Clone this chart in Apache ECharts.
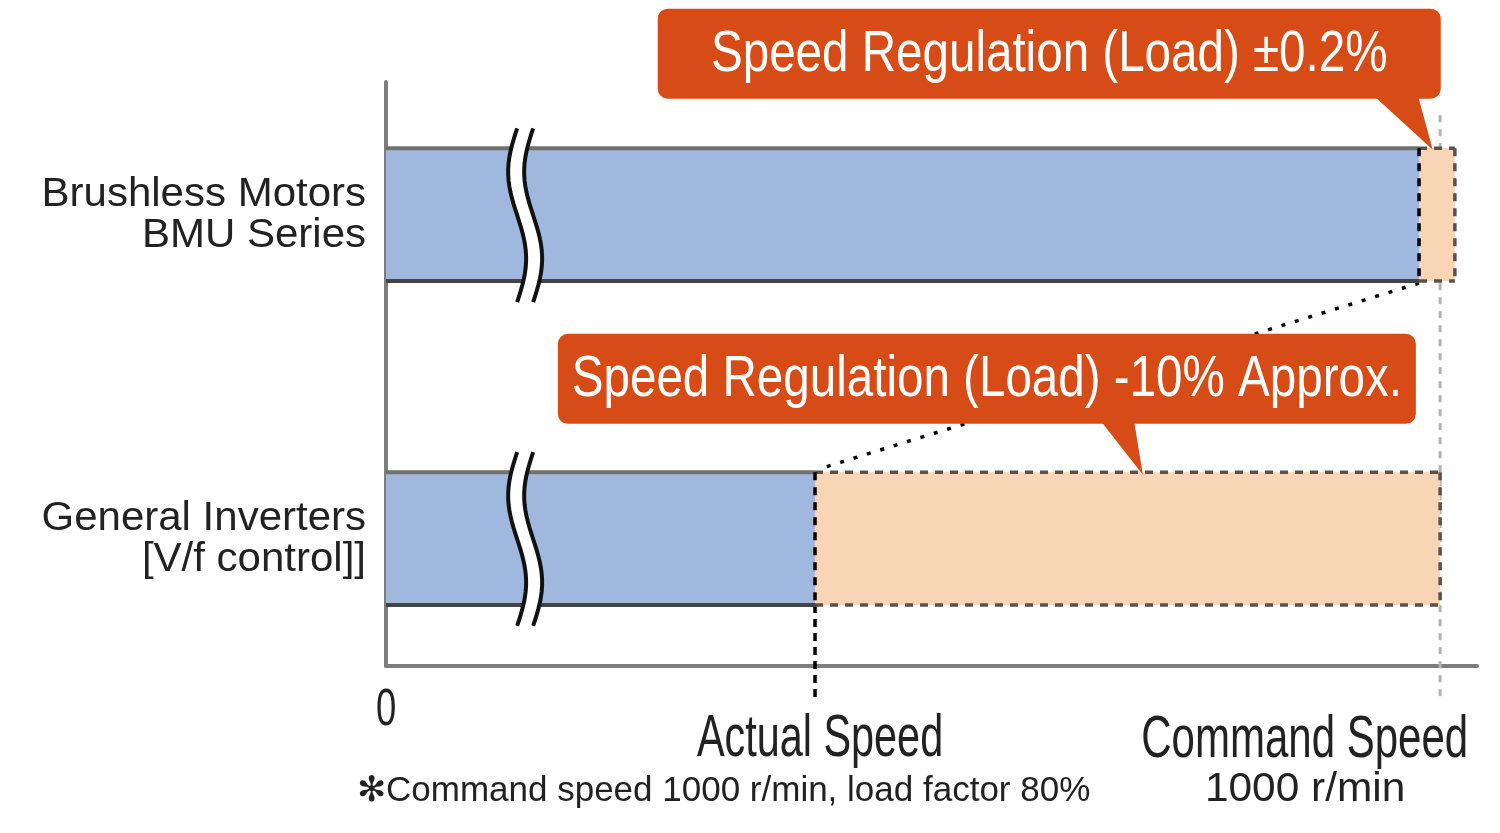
<!DOCTYPE html>
<html>
<head>
<meta charset="utf-8">
<script src="https://cdn.jsdelivr.net/npm/echarts@6/dist/echarts.min.js"></script>
<style>
    html, body {margin: 0; padding: 0; background: #fff;}
    #main {width: 1500px; height: 833px;}
</style>
</head>
<body>
<div id="main"></div>
<script>
// data
var categories = ['General Inverters\n[V/f control]]', 'Brushless Motors\nBMU Series'];
var rowValue = [0.96, 3.4];          // row centre on the (hidden) vertical value axis
var actualSpeed = [407, 980];        // end of the blue bar (broken axis, not to scale)
var regulationEnd = [1000, 1014];    // end of the orange regulation band
var commandSpeed = 1000;
var breakValue = 132;                // where the axis break marks sit
var axisTicks = [0, 407, 1000];
var axisTickLabels = ['0', 'Actual Speed', 'Command Speed'];
var axisTickSub = ['', '', '1000 r/min'];
var calloutText = ['Speed Regulation (Load) \u00b10.2%', 'Speed Regulation (Load) -10% Approx.'];
var calloutTip = [[993, 3.89], [718, 1.44]];
var footnote = '\u273bCommand speed 1000 r/min, load factor 80%';

// styles
var BLUE = '#a1b8de', PEACH = '#f8d5b4', ORANGE = '#d74b16', INK = '#222';
var FONT = '"Liberation Sans", Arial, sans-serif';
var HALF = 0.5;
var tickStyle = [
    {dx: 0, dy: 45, size: 52, sx: 0.7, align: 'center'},
    {dx: 5, dy: 73, size: 60, sx: 0.69, align: 'center'},
    {dx: 28, dy: 74, size: 60, sx: 0.7, align: 'right', subDx: -135, subDy: 124, subSize: 40}
];
var calloutBox = [
    {l: -775, r: 8, t: -141, b: -51, tri: [-60, -15]},
    {l: -585, r: 273, t: -141, b: -51, tri: [-43, -9]}
];

function wave(x0, yTop, yBot) {
    var pts = [];
    for (var k = 0; k <= 30; k++) {
        var t = k / 30;
        pts.push([x0 - 9 * Math.sin(2 * Math.PI * t), yTop + (yBot - yTop) * t]);
    }
    return pts;
}

function renderRow(params, api) {
    var i = params.dataIndex;
    var yc = api.value(0), act = api.value(1), end = api.value(2);
    var tl = api.coord([0, yc + HALF]);
    var br = api.coord([act, yc - HALF]);
    var er = api.coord([end, yc - HALF]);
    var x0 = tl[0], yT = tl[1], yB = br[1], xA = br[0], xE = er[0];
    var dash = [8, 7];
    var bx = api.coord([breakValue, yc])[0];
    var left = wave(bx - 8, yT - 20, yB + 21);
    var right = wave(bx + 8, yT - 20, yB + 21);
    var band = left.concat(right.slice().reverse());
    var mid = (yT + yB) / 2;
    return {
        type: 'group',
        children: [
            {type: 'rect', shape: {x: x0, y: yT, width: xA - x0, height: yB - yT}, style: {fill: BLUE}},
            {type: 'line', shape: {x1: x0, y1: yT, x2: xA, y2: yT}, style: {stroke: '#707070', lineWidth: 4}},
            {type: 'line', shape: {x1: x0, y1: yB, x2: xA, y2: yB}, style: {stroke: '#444', lineWidth: 4}},
            {type: 'rect', shape: {x: xA, y: yT, width: xE - xA, height: yB - yT}, style: {fill: PEACH}},
            {type: 'line', shape: {x1: xA, y1: yT, x2: xE, y2: yT}, style: {stroke: '#5e5048', lineWidth: 3.5, lineDash: dash}},
            {type: 'line', shape: {x1: xA, y1: yB, x2: xE, y2: yB}, style: {stroke: '#5e5048', lineWidth: 3.5, lineDash: dash}},
            {type: 'line', shape: {x1: xE, y1: yT, x2: xE, y2: yB}, style: {stroke: '#5e5048', lineWidth: 3.5, lineDash: dash}},
            {type: 'line', shape: {x1: xA, y1: yT, x2: xA, y2: yB}, style: {stroke: '#000', lineWidth: 3.5, lineDash: dash}},
            {type: 'polygon', shape: {points: band}, style: {fill: '#fff'}},
            {type: 'polyline', shape: {points: left}, style: {stroke: '#111', lineWidth: 4, fill: null}},
            {type: 'polyline', shape: {points: right}, style: {stroke: '#111', lineWidth: 4, fill: null}},
            {type: 'text', x: x0 - 20, y: mid + 1, scaleX: 1.05, style: {
                text: categories[i], x: 0, y: 0, align: 'right', verticalAlign: 'middle',
                font: '40px ' + FONT, lineHeight: 41, fill: INK
            }}
        ]
    };
}

function renderGuides(params, api) {
    var axisY = api.coord([0, 0])[1];
    var cTop = api.coord([commandSpeed, 4.15]);
    var aBot = api.coord([actualSpeed[0], rowValue[0] - HALF]);
    var d1 = api.coord([actualSpeed[1], rowValue[1] - HALF]);
    var d2 = api.coord([actualSpeed[0] + 6, rowValue[0] + HALF + 0.03]);
    return {
        type: 'group',
        children: [
            {type: 'line', shape: {x1: cTop[0], y1: cTop[1], x2: cTop[0], y2: axisY + 34},
                style: {stroke: '#b3b3b3', lineWidth: 3, lineDash: [7, 7]}},
            {type: 'line', shape: {x1: aBot[0], y1: aBot[1], x2: aBot[0], y2: axisY + 37},
                style: {stroke: '#000', lineWidth: 3.5, lineDash: [8, 6]}},
            {type: 'line', shape: {x1: d1[0], y1: d1[1] + 2, x2: d2[0], y2: d2[1]},
                style: {stroke: '#000', lineWidth: 3.5, lineDash: [4, 10]}}
        ]
    };
}

function renderTicks(params, api) {
    var i = params.dataIndex;
    var p = api.coord([api.value(0), 0]);
    var s = tickStyle[i];
    var kids = [{type: 'text', x: p[0] + s.dx, y: p[1] + s.dy, scaleX: s.sx, style: {
        text: axisTickLabels[i], x: 0, y: 0, align: s.align, verticalAlign: 'middle',
        font: s.size + 'px ' + FONT, fill: INK
    }}];
    if (axisTickSub[i]) {
        kids.push({type: 'text', x: p[0] + s.subDx, y: p[1] + s.subDy, scaleX: 1.06, style: {
            text: axisTickSub[i], x: 0, y: 0, align: 'center', verticalAlign: 'middle',
            font: s.subSize + 'px ' + FONT, fill: INK
        }});
    }
    return {type: 'group', children: kids};
}

function renderCallout(params, api) {
    var i = params.dataIndex;
    var tip = api.coord([api.value(0), api.value(1)]);
    var b = calloutBox[i];
    var x = tip[0] + b.l, y = tip[1] + b.t, w = b.r - b.l, h = b.b - b.t;
    return {
        type: 'group',
        children: [
            {type: 'polygon', shape: {points: [[tip[0] + b.tri[0], tip[1] + b.b - 4], [tip[0] + b.tri[1], tip[1] + b.b - 4], tip]},
                style: {fill: ORANGE}},
            {type: 'rect', shape: {x: x, y: y, width: w, height: h, r: 10}, style: {fill: ORANGE}},
            {type: 'text', x: x + w / 2, y: y + h / 2 + 1, scaleX: 0.82, style: {
                text: calloutText[i], x: 0, y: 0, align: 'center', verticalAlign: 'middle',
                font: '58px ' + FONT, fill: '#fff'
            }}
        ]
    };
}

var chart = echarts.init(document.getElementById('main'));
chart.setOption({
    animation: false,
    grid: {left: 386, right: 23, top: 82, bottom: 167},
    xAxis: {
        type: 'value', min: 0, max: 1035,
        axisLine: {show: true, lineStyle: {color: '#7d7d7d', width: 4}},
        axisTick: {show: false}, axisLabel: {show: false}, splitLine: {show: false}
    },
    yAxis: {
        type: 'value', min: 0, max: 4.4,
        axisLine: {show: true, lineStyle: {color: '#7d7d7d', width: 4}},
        axisTick: {show: false}, axisLabel: {show: false}, splitLine: {show: false}
    },
    graphic: [{
        type: 'text', x: 357, y: 791,
        style: {text: footnote, font: '35px ' + FONT, fill: INK, verticalAlign: 'middle'}
    }],
    series: [
        {type: 'custom', z: 2, renderItem: renderGuides, data: [[commandSpeed, 0]]},
        {type: 'custom', z: 3, renderItem: renderRow,
            data: categories.map(function (c, i) { return [rowValue[i], actualSpeed[i], regulationEnd[i]]; })},
        {type: 'custom', z: 4, renderItem: renderTicks, data: axisTicks.map(function (v) { return [v]; })},
        {type: 'custom', z: 5, renderItem: renderCallout, data: calloutTip}
    ]
});
</script>
</body>
</html>
